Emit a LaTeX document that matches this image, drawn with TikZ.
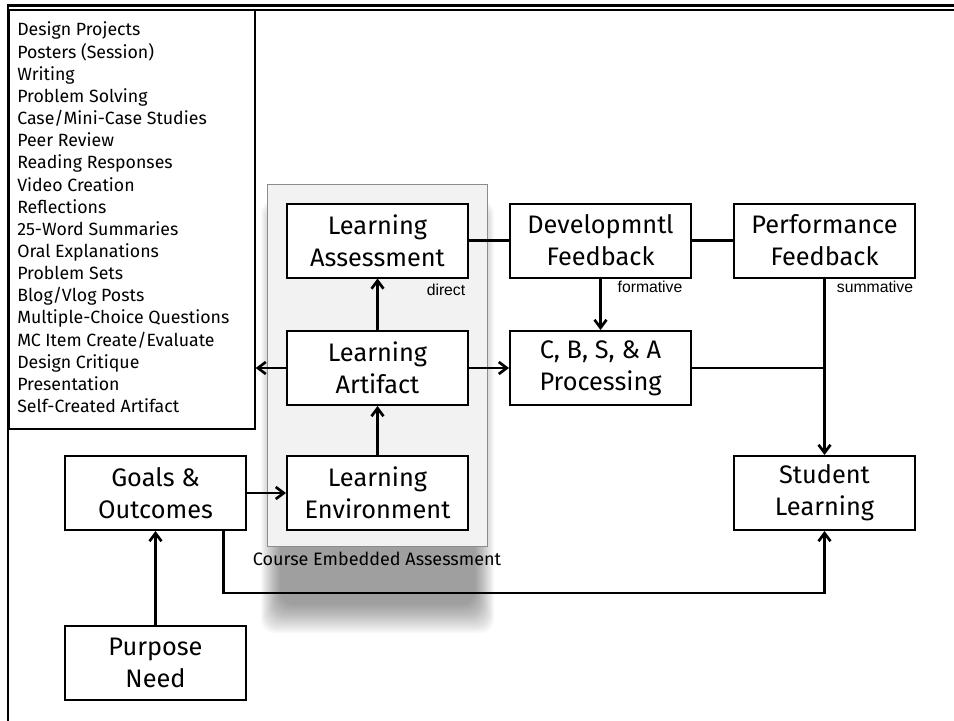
\documentclass[tikz,border=0pt]{standalone}
\usepackage{fontspec}
\setmainfont{Fira Sans}
\newfontfamily\labfont{Liberation Sans}
\usetikzlibrary{arrows.meta}
\definecolor{cont}{RGB}{242,242,242}
\definecolor{contb}{RGB}{140,140,140}
\begin{document}
\begin{tikzpicture}[x=0.75pt,y=-0.75pt,
 box/.style={draw, line width=1.5pt, fill=white, minimum width=135.75pt, minimum height=55.5pt, inner sep=0pt, align=center, font=\fontsize{19}{24}\selectfont},
 conn/.style={line width=2pt},
 arr/.style={conn, -{Straight Barb[length=6pt,width=9pt,line width=2pt]}},
 lbl/.style={font=\labfont\fontsize{11.8}{13}\selectfont, inner sep=0pt},
 listitem/.style={font=\fontsize{13.3}{15}\selectfont, anchor=base west, inner sep=0pt}
]
\useasboundingbox (0,0) rectangle (954,721);
% frame
\draw[line width=2.25pt] (8,5) -- (954,5);
\draw[line width=0.9pt] (10,10) -- (954,10);
\draw[line width=1.8pt] (8,4) -- (8,721);
% list box
\node (list) [draw, line width=0.9pt, minimum width=184.5pt, minimum height=314.25pt, inner sep=0pt] at (132,219.5) {};
\foreach \t [count=\i from 0] in {Design Projects,Posters (Session),Writing,Problem Solving,Case/Mini-Case Studies,Peer Review,Reading Responses,Video Creation,Reflections,25-Word Summaries,Oral Explanations,Problem Sets,Blog/Vlog Posts,Multiple-Choice Questions,MC Item Create/Evaluate,Design Critique,Presentation,Self-Created Artifact}
  \node (li\i) [listitem] at (17,{36+22.15*\i}) {\t};
% shadow of container
\foreach \k in {0,...,19}
  \fill[black, opacity=0.022, rounded corners=10pt] ({261+\k*1.0},{200+\k*1.0}) rectangle ({494-\k*1.0},{633-\k*1.5});
% container
\node (cea) [draw=contb, line width=0.6pt, fill=cont, minimum width=165pt, minimum height=271.5pt, inner sep=0pt] at (377,365) {};
\node (ceat) [font=\fontsize{13.5}{15}\selectfont, inner sep=0pt] at (377,559) {Course Embedded Assessment};
% boxes
\node (LAs) [box] at (377.5,240.5) {Learning\\Assessment};
\node (Art) [box] at (377.5,368) {Learning\\Artifact};
\node (Env) [box] at (377.5,493) {Learning\\Environment};
\node (Goals) [box] at (155.5,493) {Goals \&\\Outcomes};
\node (Purp) [box] at (155.5,663) {Purpose\\Need};
\node (Dev) [box] at (600.5,240.5) {Developmntl\\Feedback};
\node (Perf) [box] at (824.5,240.5) {Performance\\Feedback};
\node (CBSA) [box] at (600.5,368) {C, B, S, \& A\\Processing};
\node (Stud) [box] at (824.5,493) {Student\\Learning};
% labels
\node (ldir) [lbl] at (446,290) {direct};
\node (lfor) [lbl] at (650,287) {formative};
\node (lsum) [lbl] at (875,287) {summative};
% connectors
\draw[arr] (Art) -- (LAs);
\draw[arr] (Env) -- (Art);
\draw[arr] (Goals) -- (Env);
\draw[arr] (Purp) -- (Goals);
\draw[arr] (Art.west) -- (Art.west -| list.east);
\draw[arr] (Art) -- (CBSA);
\draw[conn] (LAs) -- (Dev);
\draw[conn] (Dev) -- (Perf);
\draw[arr] (Dev) -- (CBSA);
\draw[arr] (Perf) -- (Stud);
\draw[conn] (CBSA.east) -- (CBSA.east -| Perf.south);
\draw[arr] ([xshift=51pt]Goals.south) -- ++(0,62) -| (Stud.south);
\end{tikzpicture}
\end{document}
